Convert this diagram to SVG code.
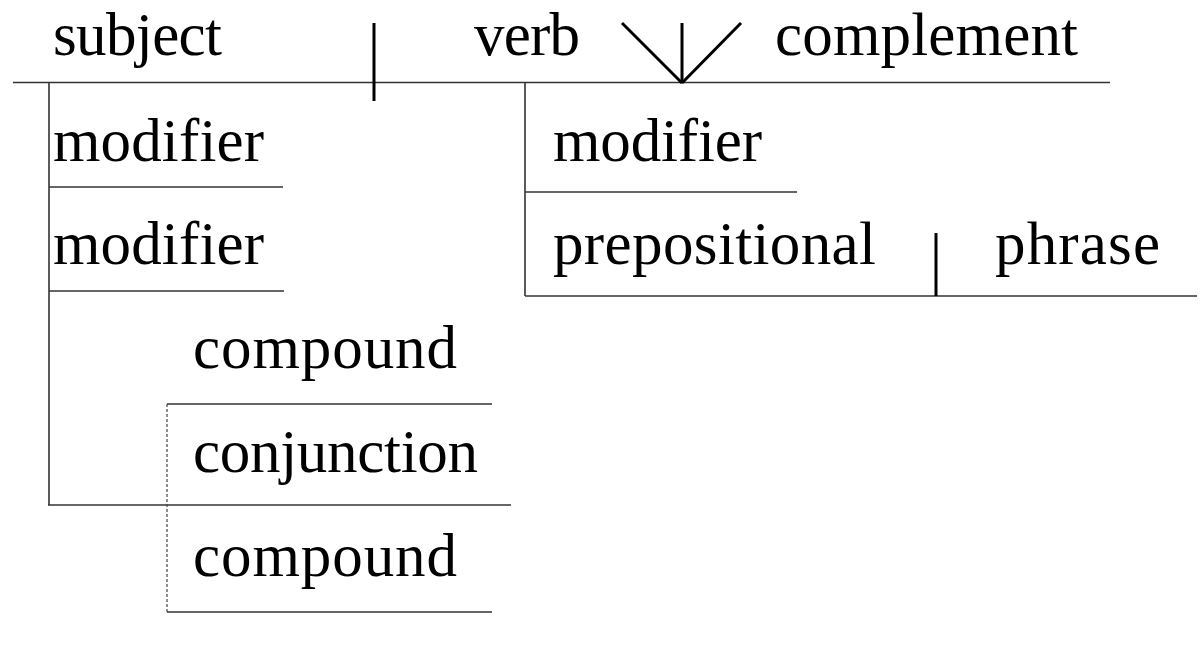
<svg xmlns="http://www.w3.org/2000/svg" width="1204" height="655" viewBox="0 0 1204 655">
<style>
.t{font-family:"Liberation Serif","Times New Roman",serif;font-size:61px;fill:#000}
.ln{stroke:#333;stroke-width:1.6;fill:none}
.bar{stroke:#000;stroke-width:3;fill:none}
.dash{stroke:#444;stroke-width:1.2;stroke-dasharray:3 2;fill:none}
</style>
<rect width="1204" height="655" fill="#fff"/>
<g id="connectors">
<line class="ln" x1="13" y1="82.5" x2="1110" y2="82.5"/>
<line class="bar" x1="374" y1="23" x2="374" y2="101"/>
<line class="bar" x1="622" y1="23" x2="682" y2="83"/>
<line class="bar" x1="682" y1="23" x2="682" y2="83"/>
<line class="bar" x1="741" y1="23" x2="682" y2="83"/>
<line class="ln" x1="49" y1="83" x2="49" y2="505"/>
<line class="ln" x1="49" y1="187" x2="283" y2="187"/>
<line class="ln" x1="49" y1="291" x2="284" y2="291"/>
<line class="ln" x1="48" y1="505" x2="511" y2="505"/>
<line class="dash" x1="167" y1="404" x2="167" y2="612"/>
<line class="ln" x1="167" y1="404" x2="492" y2="404"/>
<line class="ln" x1="167" y1="612" x2="492" y2="612"/>
<line class="ln" x1="525" y1="83" x2="525" y2="296"/>
<line class="ln" x1="525" y1="192" x2="797" y2="192"/>
<line class="ln" x1="525" y1="296" x2="1197" y2="296"/>
<line class="bar" x1="936" y1="233" x2="936" y2="296"/>
</g>
<g id="subject"><text class="t" x="53" y="55" textLength="169">subject</text></g>
<g id="verb"><text class="t" x="474" y="55" textLength="106">verb</text></g>
<g id="complement"><text class="t" x="775" y="55" textLength="303">complement</text></g>
<g id="modifier-subject-1"><text class="t" x="53" y="161" textLength="211">modifier</text></g>
<g id="modifier-subject-2"><text class="t" x="53" y="264" textLength="211">modifier</text></g>
<g id="modifier-verb"><text class="t" x="553" y="161" textLength="209">modifier</text></g>
<g id="prepositional"><text class="t" x="553" y="264" textLength="323">prepositional</text></g>
<g id="phrase"><text class="t" x="995" y="264" textLength="165">phrase</text></g>
<g id="compound-1"><text class="t" x="193" y="368" textLength="264">compound</text></g>
<g id="conjunction"><text class="t" x="193" y="472" textLength="285">conjunction</text></g>
<g id="compound-2"><text class="t" x="193" y="576" textLength="264">compound</text></g>
</svg>
